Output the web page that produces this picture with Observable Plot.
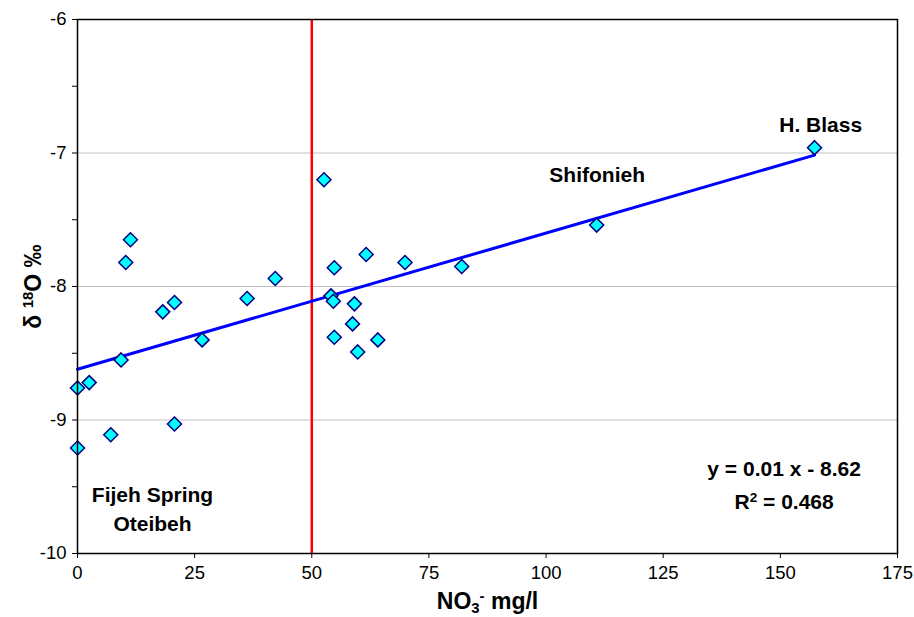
<!DOCTYPE html>
<html>
<head>
<meta charset="utf-8">
<script src="https://cdn.jsdelivr.net/npm/d3@7"></script>
<script src="https://cdn.jsdelivr.net/npm/@observablehq/plot@0.6"></script>
<style>
  html, body { margin: 0; padding: 0; background: #fff; }
</style>
</head>
<body>
<div id="chart"></div>
<script>
// Nitrate concentration (mg/l) and δ18O (‰) for each sampled spring / well
const no3 = [0, 2.5, 0, 7.1, 9.3, 10.3, 11.3, 18.2, 20.7, 20.7, 26.6, 36.2, 42.2,
             52.6, 54.1, 54.6, 54.8, 54.8, 59.1, 58.7, 59.8, 61.6, 64.1, 69.9, 82.0, 110.8, 157.3];
const d18O = [-8.76, -8.72, -9.21, -9.11, -8.55, -7.82, -7.65, -8.19, -8.12, -9.03, -8.40, -8.09, -7.94,
              -7.20, -8.07, -8.11, -7.86, -8.38, -8.13, -8.28, -8.49, -7.76, -8.40, -7.82, -7.85, -7.54, -6.96];

// Linear fit of δ18O against NO3
const slope = 0.0102;
const intercept = -8.62;
const rSquared = 0.468;

// Nitrate guideline value
const nitrateLimit = [50];

// Axis ticks
const xTicks = [0, 25, 50, 75, 100, 125, 150, 175];
const yTicks = [-10, -9.5, -9, -8.5, -8, -7.5, -7, -6.5, -6];
const yGrid = [-9, -8, -7];

// Site names placed in data units
const siteNames = ["H. Blass", "Shifonieh", "Fijeh Spring\nOteibeh"];
const siteX = [158.6, 110.9, 16.0];
const siteY = [-6.846, -7.219, -9.828];

const samples = no3.map((x, i) => ({x, y: d18O[i]}));
const xMax = d3.max(no3);
const fitLine = [0, xMax].map(x => ({x, y: intercept + slope * x}));
const sites = siteNames.map((name, i) => ({name, x: siteX[i], y: siteY[i]}));
const equation = [
  {label: `y = ${slope.toFixed(2)} x - ${Math.abs(intercept).toFixed(2)}`, x: 150.8, y: -9.419},
  {label: `R2 = ${rSquared.toFixed(3)}`, x: 150.8, y: -9.665}
];

const font = "'Liberation Sans', Arial, Helvetica, sans-serif";

const chart = Plot.plot({
  width: 914,
  height: 617,
  marginLeft: 77,
  marginRight: 17,
  marginTop: 19,
  marginBottom: 64,
  style: {fontFamily: font, fontSize: "18.5px", color: "#000", background: "#fff"},
  x: {domain: [0, 175]},
  y: {domain: [-10, -6]},
  marks: [
    Plot.gridY(yGrid, {stroke: "#c0c0c0", strokeOpacity: 1, strokeWidth: 1}),
    Plot.ruleX(nitrateLimit, {stroke: "#ff0000", strokeWidth: 2.5}),
    Plot.line(fitLine, {x: "x", y: "y", stroke: "#0000ff", strokeWidth: 3}),
    Plot.dot(samples, {x: "x", y: "y", symbol: "diamond2", r: 6.3, fill: "#00ffff", stroke: "#000080", strokeWidth: 1.5}),
    Plot.frame({stroke: "#000", strokeWidth: 1.5}),
    Plot.axisX(xTicks, {tickSize: 5, tickPadding: 7, label: null, stroke: "#000"}),
    Plot.axisY(yTicks, {tickSize: 5, tickPadding: 6, label: null, stroke: "#000",
      tickFormat: d => Number.isInteger(d) ? String(d) : ""}),
    Plot.text(sites, {x: "x", y: "y", text: "name", fontWeight: "bold", fontSize: 21,
      textAnchor: "middle", lineAnchor: "bottom", lineHeight: 1.36}),
    Plot.text(equation.slice(0, 1), {x: "x", y: "y", text: "label", fontWeight: "bold", fontSize: 21,
      textAnchor: "middle", lineAnchor: "bottom"}),
    Plot.text(equation.slice(1), {x: "x", y: "y", text: "label", fontWeight: "bold", fontSize: 21,
      textAnchor: "middle", lineAnchor: "bottom", className: "r2-label"}),
    Plot.text(["NO3- mg/l"], {frameAnchor: "bottom", dy: 55, fontWeight: "bold", fontSize: 23,
      textAnchor: "middle", lineAnchor: "bottom", className: "x-title"}),
    Plot.text(["δ 18O ‰"], {frameAnchor: "left", dx: -37, rotate: -90, fontWeight: "bold", fontSize: 23,
      textAnchor: "middle", lineAnchor: "bottom", className: "y-title"})
  ]
});

// Rebuild labels that need sub/superscripts
function rich(selector, parts) {
  const t = d3.select(chart).select(selector).select("text");
  t.text(null);
  for (const [s, shift] of parts) {
    const sp = t.append("tspan").text(s);
    if (shift) sp.attr("baseline-shift", shift).attr("font-size", "65%");
  }
}
rich(".x-title", [["NO", null], ["3", "-0.3em"], ["-", "super"], [" mg/l", null]]);
rich(".y-title", [["δ ", null], ["18", "super"], ["O ‰", null]]);
rich(".r2-label", [["R", null], ["2", "super"], [` = ${rSquared.toFixed(3)}`, null]]);

document.getElementById("chart").appendChild(chart);
</script>
</body>
</html>
